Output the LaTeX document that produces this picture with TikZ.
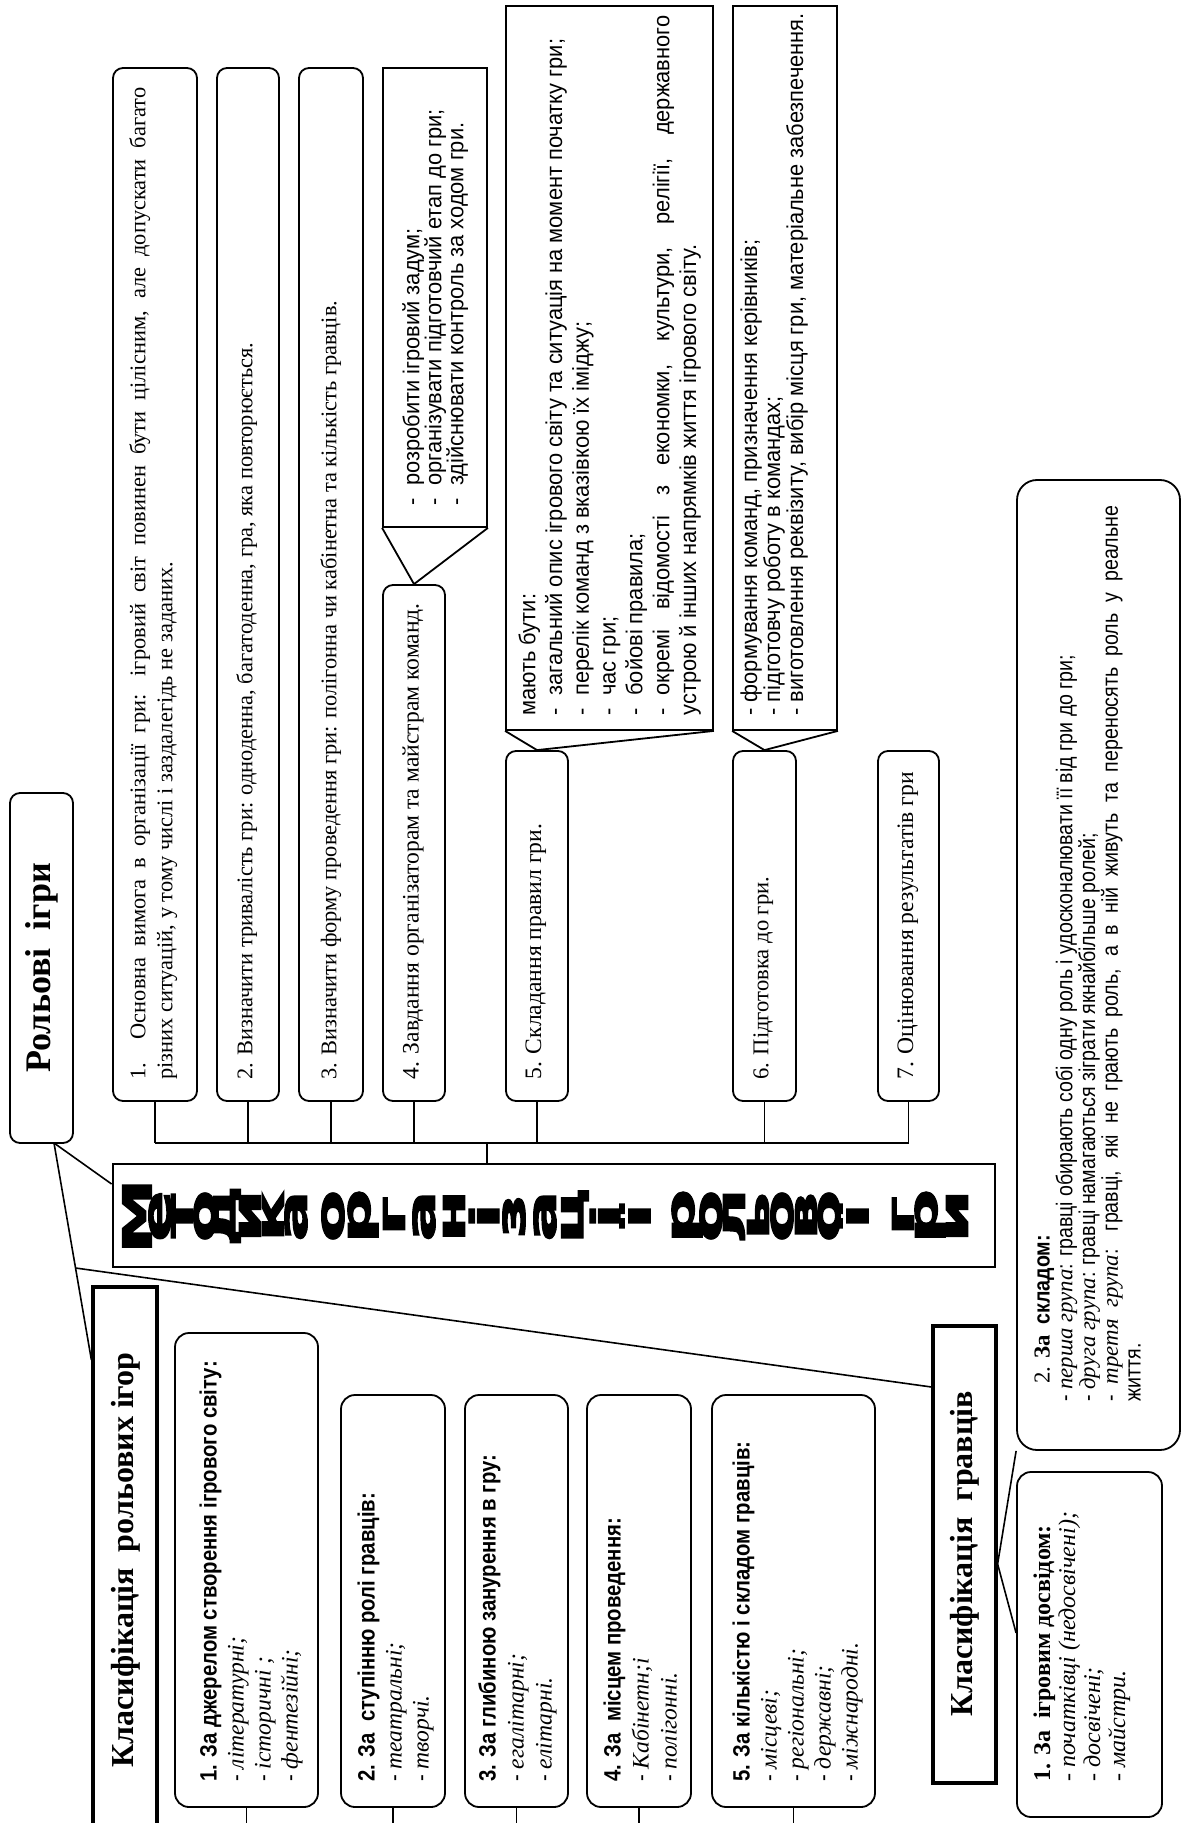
\documentclass[tikz,border=0pt]{standalone}
\usepackage{fontspec}
\usepackage{graphicx}
\setmainfont{Liberation Serif}
\newfontfamily\nsans[FakeStretch=0.86]{Liberation Sans}
\newfontfamily\csans[FakeStretch=0.95]{Liberation Sans}
\newfontfamily\tfont[BoldFeatures={FakeBold=2.5}]{DejaVu Sans}
\usetikzlibrary{fit,calc}
\newcommand\bul{\makebox[10pt][l]{-}}
\newcommand\itm[1]{-~{\rmfamily\itshape #1}}
\newcommand\hd[1]{{\nsans\bfseries #1}}
\begin{document}
\begin{tikzpicture}[x=0.5pt,y=-0.5pt,
  lw/.style={line width=0.9pt},
  rbox/.style={draw, line width=0.9pt, rounded corners=5pt, inner sep=0pt},
  lbox/.style={draw, line width=0.9pt, rounded corners=7pt, inner sep=0pt},
  pbox/.style={draw, line width=0.9pt, rounded corners=10pt, inner sep=0pt},
  sbox/.style={draw, line width=0.9pt, inner sep=0pt},
  hbox/.style={draw, line width=1.6pt, inner sep=0pt},
  txt/.style={rotate=90, anchor=north west, inner sep=0pt, align=left},
  conn/.style={line width=0.8pt},
  ttl/.style={rotate=90, inner sep=0pt, font=\tfont\bfseries\fontsize{20}{20}\selectfont},
]
\useasboundingbox (0,0) rectangle (1182,1823);
\clip (0,0) rectangle (1182,1823);
\fill[white] (0,0) rectangle (1182,1823);

% ---------- top boxes ----------
\node[rbox, fit={(113,68)(197,1101)}] (b1) {};
\node[rbox, fit={(217,68)(279,1101)}] (b2) {};
\node[rbox, fit={(299,68)(363,1101)}] (b3) {};
\node[rbox, fit={(383,585)(445,1101)}] (b4) {};
\node[rbox, fit={(506,751)(568,1101)}] (b5) {};
\node[rbox, fit={(733,751)(796,1101)}] (b6) {};
\node[rbox, fit={(878,751)(939,1101)}] (b7) {};
\node[sbox, fit={(383,68)(487,527)}] (c4) {};
\node[sbox, fit={(506,6)(713,730)}] (c5) {};
\node[sbox, fit={(733,6)(837,730)}] (c6) {};
\draw[lw, line join=miter] (c4.south west) -- (b4.north) -- (c4.south east);
\draw[lw, line join=miter] (c5.south west) -- (b5.north) -- (c5.south east);
\draw[lw, line join=miter] (c6.south west) -- (b6.north) -- (c6.south east);

\node[txt, text width=496pt, align=justify, font=\fontsize{11.2}{13.5}\selectfont] (t1) at (129,1080)
 {1. Основна вимога в організації гри: ігровий світ повинен бути цілісним, але допускати багато\linebreak різних ситуацій, у тому числі і заздалегідь не заданих.};
\node[txt, font=\fontsize{11.2}{13.5}\selectfont] (t2) at (236,1080)
 {2. Визначити тривалість гри: одноденна, багатоденна, гра, яка повторюється.};
\node[txt, font=\fontsize{11.2}{13.5}\selectfont] (t3) at (320,1080)
 {3. Визначити форму проведення гри: полігонна чи кабінетна та кількість гравців.};
\node[txt, font=\fontsize{11.8}{13.5}\selectfont] (t4) at (402,1080)
 {4. Завдання організаторам та майстрам команд.};
\node[txt, font=\fontsize{11.8}{13.5}\selectfont] (t5) at (525,1080)
 {5. Складання правил гри.};
\node[txt, font=\fontsize{11.3}{13.5}\selectfont] (t6) at (753,1080)
 {6. Підготовка до гри.};
\node[txt, font=\fontsize{11.8}{13.5}\selectfont] (t7) at (897,1080)
 {7. Оцінювання результатів гри};

\node[txt, font=\csans\fontsize{11.5}{11}\selectfont] (tc4) at (402,506)
 {\bul розробити ігровий задум;\\ \bul організувати підготовчий етап до гри;\\ \bul здійснювати контроль за ходом гри.};
\node[txt, text width=350pt, align=justify, font=\csans\fontsize{11.5}{13.4}\selectfont] (tc5) at (518,716)
 {мають бути:\\ \bul загальний опис ігрового світу та ситуація на момент початку гри;\\ \bul перелік команд з вказівкою їх іміджу;\\ \bul час гри;\\ \bul бойові правила;\\ \bul окремі відомості з економки, культури, релігії, державного\linebreak устрою й інших напрямків життя ігрового світу.};
\node[txt, font=\csans\fontsize{11.5}{11.5}\selectfont] (tc6) at (740,716)
 {- формування команд, призначення керівників;\\- підготовчу роботу в командах;\\- виготовлення реквізиту, вибір місця гри, матеріальне забезпечення.};

% ---------- bus ----------
\coordinate (bus) at (0,1143);
\foreach \n in {b1,b2,b3,b4,b5,b6,b7} \draw[conn] (\n.south) -- (\n.south |- bus);
\draw[conn] (b1.south |- bus) -- (b7.south |- bus);

% ---------- title ----------
\node[hbox, line width=1.4pt, fit={(113,1164)(995,1267)}] (title) {};
\coordinate (tx) at (487,0);
\draw[conn] (tx |- bus) -- (tx |- title.north);
\foreach \ch/\x [count=\i] in {М/137,е/160,т/182,о/205,д/227,и/250,к/273,а/296,
 о/333,р/363,г/394,а/424,н/454,і/484,з/514,а/545,ц/575,і/605,ї/635,
 р/687,о/711,л/734,ь/758,о/782,в/806,о/829,ї/853,
 г/903,р/930,и/957}
 \node[ttl] (tl\i) at (\x,1216) {\scalebox{1.9}[1]{\ch}};

% ---------- left headers ----------
\node[rbox, fit={(10,793)(73,1143)}] (rol) {};
\node[rotate=90, inner sep=0pt, font=\bfseries\fontsize{18}{18}\selectfont] (trol) at (41.5,968) {Рольові~~ігри};
\node[hbox, fit={(93,1287)(157,1850)}] (krig) {};
\node[rotate=90, inner sep=0pt, font=\bfseries\fontsize{16}{16}\selectfont] (tkrig) at (126,1560) {Класифікація~~рольових ігор};
\node[hbox, fit={(933,1326)(996,1783)}] (kgr) {};
\node[rotate=90, inner sep=0pt, font=\bfseries\fontsize{16}{16}\selectfont] (tkgr) at (965,1554) {Класифікація~~гравців};

\coordinate (p0) at (54,1143);
\coordinate (q1) at (0,1184);
\coordinate (q2) at (0,1360);
\coordinate (q3) at (0,1387);
\coordinate (q4) at (0,1564);
\coordinate (q5) at (0,1633);
\coordinate (k2) at (krig.west |- q2);
\draw[conn] (p0) -- (title.west |- q1);
\draw[conn] (p0) -- (k2);
\coordinate (p1) at ($(p0)!0.576!(k2)$);
\draw[conn] (p1) -- (kgr.west |- q3);

% ---------- classification of games ----------
\node[lbox, fit={(175,1333)(318,1807)}] (l1) {};
\node[lbox, fit={(341,1395)(445,1807)}] (l2) {};
\node[lbox, fit={(465,1395)(568,1807)}] (l3) {};
\node[lbox, fit={(587,1395)(691,1807)}] (l4) {};
\node[lbox, fit={(712,1395)(875,1807)}] (l5) {};
\foreach \n in {l1,l2,l3,l4,l5} \draw[conn] (\n.south) -- ++(0,40);

\node[txt, font=\nsans\fontsize{11.8}{13.5}\selectfont] (tl1) at (199,1782)
 {\hd{1. За джерелом створення ігрового світу:}\\ \itm{літературні;}\\ \itm{історичні ;}\\ \itm{фентезійні;}};
\node[txt, font=\nsans\fontsize{11.8}{13.5}\selectfont] (tl2) at (357,1782)
 {\hd{2. За~~ступінню ролі гравців:}\\ \itm{театральні;}\\ \itm{творчі.}};
\node[txt, font=\nsans\fontsize{11.8}{14}\selectfont] (tl3) at (478,1782)
 {\hd{3. За глибиною занурення в гру:}\\ \itm{егалітарні;}\\ \itm{елітарні.}};
\node[txt, font=\nsans\fontsize{11.8}{14}\selectfont] (tl4) at (603,1782)
 {\hd{4. За~~місцем проведення:}\\ \itm{Кабінетн;і}\\ \itm{полігонні.}};
\node[txt, font=\nsans\fontsize{11.8}{13.5}\selectfont] (tl5) at (732,1782)
 {\hd{5. За кількістю і складом гравців:}\\ \itm{місцеві;}\\ \itm{регіональні;}\\ \itm{державні;}\\ \itm{міжнародні.}};

% ---------- classification of players ----------
\node[pbox, fit={(1017,480)(1180,1450)}] (pl2) {};
\node[lbox, fit={(1017,1472)(1162,1817)}] (pl1) {};
\draw[conn] (kgr.east |- q4) -- (pl2.south west);
\draw[conn] (kgr.east |- q4) -- (pl1.west |- q5);

\node[txt, font=\fontsize{12}{12.5}\selectfont] (tp1) at (1033,1782)
 {{\bfseries 1. За~~ігровим досвідом:}\\ \itm{початківці (недосвічені);}\\ \itm{досвічені;}\\ \itm{майстри.}};
\node[txt, text width=448pt, align=justify, font=\nsans\fontsize{11.4}{11.4}\selectfont] (tp2) at (1034,1402)
 {\hspace*{9pt}{\rmfamily 2. \bfseries За}~~{\bfseries складом:}\\
  - {\rmfamily\itshape перша група}: гравці обирають собі одну роль і удосконалювати її від гри до гри;\\
  - {\rmfamily\itshape друга група}: гравці намагаються зіграти якнайбільше ролей;\\
  - {\rmfamily\itshape третя група}: гравці, які не грають роль, а в ній живуть та переносять роль у реальне\linebreak життя.};
\end{tikzpicture}
\end{document}
